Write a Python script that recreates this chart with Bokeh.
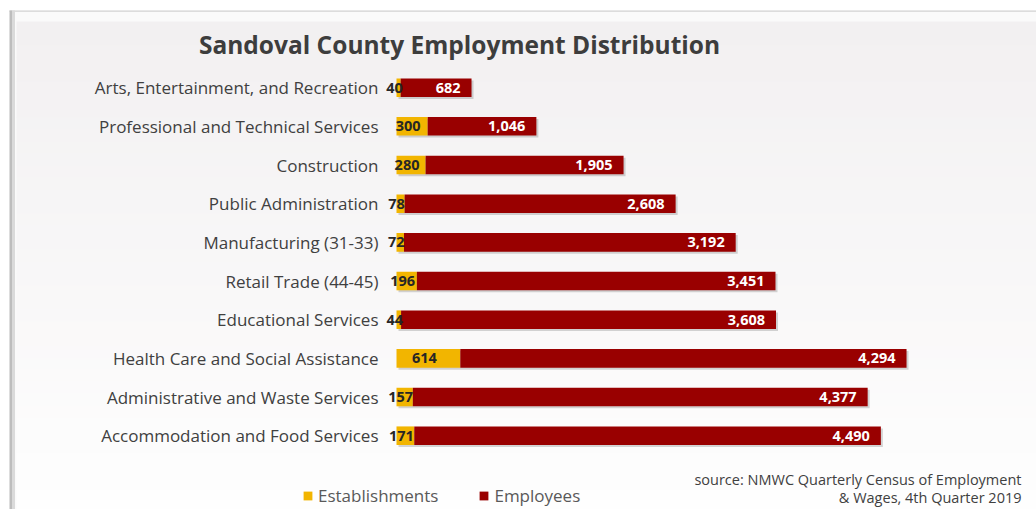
import numpy as np
from bokeh.plotting import figure
from bokeh.models import Range1d, Label, Legend, LegendItem, BoxAnnotation, ColumnDataSource
from bokeh.core.properties import value
from bokeh.embed import file_html
from bokeh.resources import INLINE

# ---------------- data ----------------
categories = [
    "Arts, Entertainment, and Recreation",
    "Professional and Technical Services",
    "Construction",
    "Public Administration",
    "Manufacturing (31-33)",
    "Retail Trade (44-45)",
    "Educational Services",
    "Health Care and Social Assistance",
    "Administrative and Waste Services",
    "Accommodation and Food Services",
]
establishments = [40, 300, 280, 78, 72, 196, 44, 614, 157, 171]
employees = [682, 1046, 1905, 2608, 3192, 3451, 3608, 4294, 4377, 4490]
series_names = ["Establishments", "Employees"]
title_text = "Sandoval County Employment Distribution"
source_lines = ["source: NMWC Quarterly Census of Employment", "& Wages, 4th Quarter 2019"]

# ---------------- layout constants ----------------
W, H = 1036, 509
UNITS_PER_PX = 9.623
ORIGIN_PX = 396
X0 = -ORIGIN_PX * UNITS_PER_PX
X1 = X0 + W * UNITS_PER_PX
ROW_PX = 38.67
ROW0_PX = 435.2
Y0 = (ROW0_PX - H) / ROW_PX
Y1 = ROW0_PX / ROW_PX


def dx(px):
    return X0 + px * UNITS_PER_PX


def dy(py):
    return Y1 - py / ROW_PX


GOLD = "#f2b500"
RED = "#990000"
FONT = "Open Sans"

n = len(categories)
ys = np.arange(n)[::-1].astype(float)
est = np.array(establishments, dtype=float)
emp = np.array(employees, dtype=float)
total = est + emp

src = ColumnDataSource(dict(
    cat=categories,
    y=ys,
    est=est,
    emp=emp,
    total=total,
    est_mid=est / 2.0,
    est_txt=[f"{v:,}" for v in establishments],
    emp_txt=[f"{v:,}" for v in employees],
    sh_y=ys - 2.0 / ROW_PX,
    sh_l=np.zeros(n) + 2.0 * UNITS_PER_PX,
    sh_r=total + 2.0 * UNITS_PER_PX,
))

p = figure(width=W, height=H, output_backend="svg", toolbar_location=None,
           x_range=Range1d(X0, X1), y_range=Range1d(Y0, Y1),
           min_border=0, min_border_left=0, min_border_right=0,
           min_border_top=0, min_border_bottom=0)
p.xaxis.visible = False
p.yaxis.visible = False
p.xgrid.visible = False
p.ygrid.visible = False
p.outline_line_color = None
p.background_fill_color = "white"
p.border_fill_color = "white"

# ---------------- panel decoration ----------------
p.add_layout(BoxAnnotation(left=dx(9), top=dy(10), fill_color="#fafafa", fill_alpha=1,
                           line_color=None, level="underlay"))
p.add_layout(BoxAnnotation(left=dx(9), top=dy(10), bottom=dy(11.2), fill_color="#d2d2d2",
                           fill_alpha=1, line_color=None, level="underlay"))
p.add_layout(BoxAnnotation(left=dx(9), right=dx(11.5), top=dy(10), fill_color="#bdbdbd",
                           fill_alpha=1, line_color=None, level="underlay"))
p.add_layout(BoxAnnotation(left=dx(11.5), right=dx(14.5), top=dy(10), fill_color="#dadada",
                           fill_alpha=1, line_color=None, level="underlay"))
c_top = np.array([242, 240, 241])
c_bot = np.array([254, 254, 254])
band_edges = np.arange(21, H + 12, 12)
for k in range(len(band_edges) - 1):
    t = k / (len(band_edges) - 2)
    c = (c_top + (c_bot - c_top) * t).round().astype(int)
    col = "#%02x%02x%02x" % tuple(c)
    p.add_layout(BoxAnnotation(left=dx(16), top=dy(band_edges[k]), bottom=dy(band_edges[k + 1] + 0.5),
                               fill_color=col, fill_alpha=1, line_color=None, level="underlay"))

# ---------------- bars ----------------
BAR_H = 0.48
p.hbar(y="sh_y", left="sh_l", right="sh_r", height=BAR_H, source=src,
       fill_color="#000000", fill_alpha=0.16, line_color=None)
r_est = p.hbar(y="y", left=0, right="est", height=BAR_H, source=src,
               fill_color=GOLD, line_color=None)
r_emp = p.hbar(y="y", left="est", right="total", height=BAR_H, source=src,
               fill_color=RED, line_color=None)

# ---------------- texts ----------------
p.text(x=0, y="y", text="cat", source=src, x_offset=-18, text_align="right",
       text_baseline="middle", text_font=value(FONT), text_font_size="17px",
       text_color="#404040")
p.text(x="est_mid", y="y", text="est_txt", source=src, x_offset=-4, text_align="center",
       text_baseline="middle", text_font=value(FONT), text_font_size="14.5px",
       text_font_style="bold", text_color="#262626")
p.text(x="total", y="y", text="emp_txt", source=src, x_offset=-11, text_align="right",
       text_baseline="middle", text_font=value(FONT), text_font_size="14.5px",
       text_font_style="bold", text_color="white")

p.add_layout(Label(x=dx(459), y=dy(44), text=title_text, text_align="center",
                   text_baseline="middle", text_font=FONT, text_font_size="24.5px",
                   text_font_style="bold", text_color="#3d3d3d"))
p.add_layout(Label(x=dx(1021), y=dy(479), text=source_lines[0], text_align="right",
                   text_baseline="middle", text_font=FONT, text_font_size="14.5px",
                   text_color="#404040"))
p.add_layout(Label(x=dx(1021), y=dy(497), text=source_lines[1], text_align="right",
                   text_baseline="middle", text_font=FONT, text_font_size="14.5px",
                   text_color="#404040"))

legend = Legend(items=[LegendItem(label=series_names[0], renderers=[r_est]),
                       LegendItem(label=series_names[1], renderers=[r_emp])],
                orientation="horizontal", location=(302, 2),
                glyph_width=11, glyph_height=11, label_standoff=5, spacing=40,
                padding=0, margin=0, border_line_color=None, background_fill_alpha=0,
                label_text_font=FONT, label_text_font_size="17px",
                label_text_color="#595959")
p.add_layout(legend)

open("out.html", "w").write(file_html(p, INLINE))
